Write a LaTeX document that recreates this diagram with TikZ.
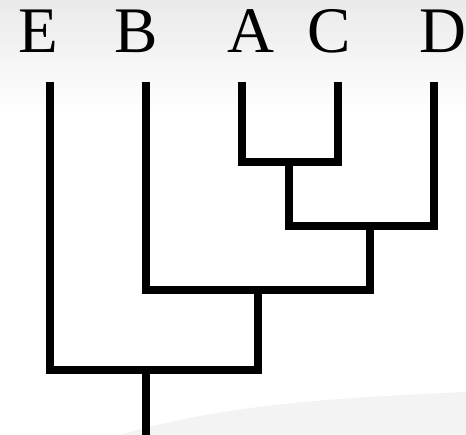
\documentclass[tikz,border=0pt]{standalone}
\usepackage{fontspec}
\setmainfont{Liberation Serif}
\usepackage{tikz}
\usetikzlibrary{positioning,calc}
\definecolor{haze}{HTML}{EAEAEA}
\definecolor{swoosh}{HTML}{F3F3F3}
\tikzset{
  branch/.style={line width=8pt, line join=miter, line cap=butt},
  taxon/.style={font={\fontsize{65}{65}\selectfont}, anchor=base, inner sep=0pt}
}

\begin{document}
\begin{tikzpicture}[x=1pt,y=-1pt]
  \useasboundingbox (0,0) rectangle (466,435);
  % slide background
  \shade[top color=haze, bottom color=white] (0,0) rectangle (466,115);
  \fill[swoosh] (120,435) .. controls (220,405) and (330,398) .. (466,392)
    -- (466,435) -- cycle;
  % taxa
  \foreach \name/\x/\lx in {E/49.5/38, B/146/136, A/241.5/251, C/337.5/329, D/433.5/443}{
    \node[taxon] (l\name) at (\lx,53) {\name};
    \coordinate (\name) at (\x,82);
  }
  % inner nodes
  \coordinate (AC)   at (289,162);
  \coordinate (ACD)  at (369.5,226.5);
  \coordinate (BACD) at (257.5,290);
  \coordinate (all)  at (145.5,370);
  \coordinate (root) at (145.5,435);
  % tree
  \draw[branch] (A) |- (AC) -| (C);
  \draw[branch] (AC) |- (ACD) -| (D);
  \draw[branch] (B) |- (BACD) -| (ACD);
  \draw[branch] (E) |- (all) -| (BACD);
  \draw[branch] (all) -- (root);
\end{tikzpicture}
\end{document}
